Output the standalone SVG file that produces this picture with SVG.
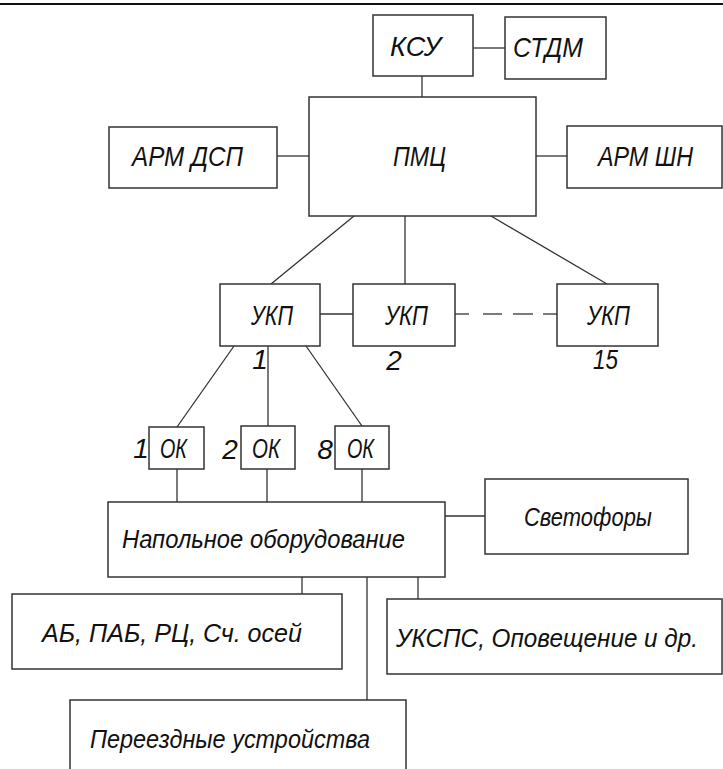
<svg xmlns="http://www.w3.org/2000/svg" width="723" height="769" viewBox="0 0 723 769">
<style>
.b{fill:#fff;stroke:#333;stroke-width:1.5}
.c line{stroke:#333;stroke-width:1.3;fill:none}
text{font-family:"Liberation Sans","DejaVu Sans",sans-serif;font-style:italic;font-size:28px;fill:#111}
.n{text-anchor:middle;font-size:28px}
.m{font-size:25px}
</style>
<rect width="723" height="769" fill="#fff"/>
<line x1="0" y1="4" x2="723" y2="4" stroke="#111" stroke-width="2"/>
<g class="c" id="connectors">
<line x1="473" y1="48" x2="505" y2="48"/>
<line x1="422" y1="76" x2="422" y2="97"/>
<line x1="277" y1="156" x2="309" y2="156"/>
<line x1="536" y1="156" x2="567" y2="156"/>
<line x1="354" y1="216" x2="271" y2="284"/>
<line x1="405" y1="216" x2="405" y2="284"/>
<line x1="491" y1="216" x2="607" y2="284"/>
<line x1="320" y1="314" x2="353" y2="314"/>
<line x1="455" y1="314" x2="469" y2="314"/>
<line x1="483" y1="314" x2="502" y2="314"/>
<line x1="513" y1="314" x2="533" y2="314"/>
<line x1="543" y1="314" x2="557" y2="314"/>
<line x1="234" y1="346" x2="177" y2="427"/>
<line x1="268" y1="346" x2="268" y2="426"/>
<line x1="306" y1="346" x2="362" y2="426"/>
<line x1="177" y1="469" x2="177" y2="502"/>
<line x1="267" y1="469" x2="267" y2="502"/>
<line x1="362" y1="469" x2="362" y2="502"/>
<line x1="445" y1="516" x2="485" y2="516"/>
<line x1="302" y1="577" x2="302" y2="594"/>
<line x1="367" y1="577" x2="367" y2="700"/>
<line x1="418" y1="577" x2="418" y2="599"/>
</g>
<g id="ksu"><rect class="b" x="373" y="15" width="100" height="61"/><text x="390" y="56" textLength="51" lengthAdjust="spacingAndGlyphs">КСУ</text></g>
<g id="stdm"><rect class="b" x="505" y="17" width="101" height="62"/><text x="513" y="57" textLength="70" lengthAdjust="spacingAndGlyphs">СТДМ</text></g>
<g id="pmc"><rect class="b" x="309" y="97" width="227" height="119"/><text x="393" y="166" textLength="53" lengthAdjust="spacingAndGlyphs">ПМЦ</text></g>
<g id="arm-dsp"><rect class="b" x="109" y="127" width="168" height="61"/><text x="132" y="166" textLength="111" lengthAdjust="spacingAndGlyphs">АРМ ДСП</text></g>
<g id="arm-shn"><rect class="b" x="567" y="126" width="155" height="62"/><text x="598" y="166" textLength="95" lengthAdjust="spacingAndGlyphs">АРМ ШН</text></g>
<g id="ukp1"><rect class="b" x="220" y="284" width="100" height="62"/><text x="251" y="325" textLength="42" lengthAdjust="spacingAndGlyphs">УКП</text><text class="n" x="260" y="369">1</text></g>
<g id="ukp2"><rect class="b" x="353" y="284" width="102" height="62"/><text x="385" y="325" textLength="43" lengthAdjust="spacingAndGlyphs">УКП</text><text class="n" x="394" y="370">2</text></g>
<g id="ukp15"><rect class="b" x="557" y="284" width="101" height="62"/><text x="587" y="325" textLength="43" lengthAdjust="spacingAndGlyphs">УКП</text><text x="593" y="369" textLength="25" lengthAdjust="spacingAndGlyphs">15</text></g>
<g id="ok1"><rect class="b" x="149" y="427" width="55" height="42"/><text x="160" y="458" textLength="27" lengthAdjust="spacingAndGlyphs">ОК</text><text class="n" x="141" y="458">1</text></g>
<g id="ok2"><rect class="b" x="241" y="426" width="54" height="43"/><text x="252" y="458" textLength="28" lengthAdjust="spacingAndGlyphs">ОК</text><text class="n" x="230" y="459">2</text></g>
<g id="ok8"><rect class="b" x="335" y="426" width="54" height="43"/><text x="347" y="458" textLength="27" lengthAdjust="spacingAndGlyphs">ОК</text><text class="n" x="325" y="459">8</text></g>
<g id="floor"><rect class="b" x="108" y="502" width="337" height="75"/><text class="m" x="122" y="548" textLength="283" lengthAdjust="spacingAndGlyphs">Напольное оборудование</text></g>
<g id="signals"><rect class="b" x="485" y="479" width="203" height="75"/><text class="m" x="524" y="526" textLength="128" lengthAdjust="spacingAndGlyphs">Светофоры</text></g>
<g id="ab"><rect class="b" x="12" y="594" width="330" height="75"/><text class="m" x="42" y="642" textLength="260" lengthAdjust="spacingAndGlyphs">АБ, ПАБ, РЦ, Сч. осей</text></g>
<g id="ukspc"><rect class="b" x="387" y="599" width="335" height="75"/><text class="m" x="396" y="647" textLength="302" lengthAdjust="spacingAndGlyphs">УКСПС, Оповещение и др.</text></g>
<g id="crossing"><rect class="b" x="70" y="700" width="336" height="90"/><text class="m" x="90" y="748" textLength="280" lengthAdjust="spacingAndGlyphs">Переездные устройства</text></g>
</svg>
